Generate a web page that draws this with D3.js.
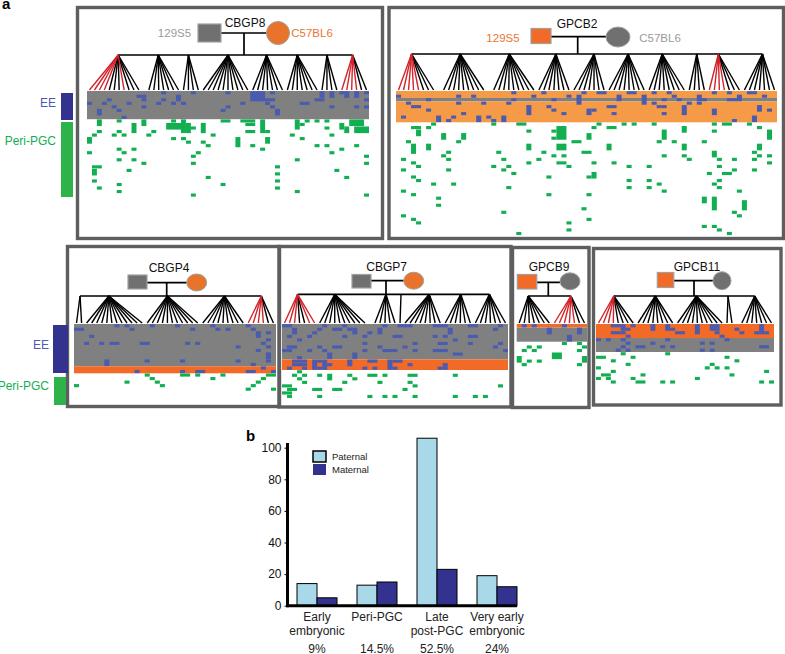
<!DOCTYPE html>
<html><head><meta charset="utf-8">
<script src="https://cdnjs.cloudflare.com/ajax/libs/d3/7.8.5/d3.min.js"></script>
<style>html,body{margin:0;padding:0;background:#fff}svg{display:block}text{font-family:"Liberation Sans",Arimo,Helvetica,Arial,sans-serif}</style>
</head><body><svg id="c" width="785" height="654"></svg>
<script>
// ---- Panel b data
const categories = [["Early","embryonic"],["Peri-PGC"],["Late","post-PGC"],["Very early","embryonic"]];
const paternal = [14,13,106,19];
const maternal = [5,15,23,12];
const percents = ["9%","14.5%","52.5%","24%"];
const yTicks = [0,20,40,60,80,100];

// ---- Panel a data: cells are [column,row,columnSpan,rowSpan]; families are [first,last,apex,[red children]]
const cbgp8Names = ["CBGP8","129S5","C57BL6"];
const cbgp8Bands = [[0,8,"grey"]];
const cbgp8Families = [[0,10,5.8,[0,1,2,3,7]],[12,18,13.9,[]],[19,22,20,[]],[23,32,28,[]],[33,39,35.8,[]],[40,46,42,[]],[47,50,48,[]],[51,56,53.2,[51,52,53,54]]];
const cbgp8Blue = [[15,0],[21,0],[28,0],[10,1,2],[11,2],[4,2],[3,3],[0,3],[5,4],[8,3],[11,4],[15,2],[14,3],[18,1,1,2],[17,3],[19,3],[2,5,1,2],[6,5],[7,7],[28,4],[27,5],[31,3],[33,0,3,3],[37,0],[36,2],[37,2],[36,3],[37,4],[38,5,1,2],[43,3,2],[46,2,2],[47,0,1,2],[49,0,1,2],[49,4],[51,0],[52,0,1,2],[54,0,1,2],[56,0],[56,2],[54,4],[56,4]];
const cbgp8Green = [[2,0,1,2],[6,0],[11,0,1,2],[9,1,1,3],[17,0],[16,1,3,2],[19,0,1,4],[20,1,1,3],[21,2],[23,1,1,3],[27,0,2],[31,0,3,1],[32,1,2,1],[35,0,1,4],[36,3],[32,3,2],[42,0,1,3],[43,1],[44,0],[46,0],[48,0],[48,2],[51,1,1,2],[52,2,1,2],[53,0,3,2],[54,2,3,2],[2,3],[1,4],[0,5,1,2],[5,4],[6,3],[7,4],[12,4],[13,3],[17,5],[19,5],[20,6],[23,6],[24,7],[25,4],[30,5,1,3],[33,7],[35,8],[36,5,1,2],[41,4],[43,5],[49,4],[46,7],[48,7],[49,9],[51,8],[54,7],[0,9],[6,8],[7,9],[9,8],[6,11],[9,11],[11,12],[22,9],[21,10],[21,12],[42,11],[56,10],[56,12],[1,13,2],[1,14,1,2],[8,14],[38,13],[38,15],[38,17],[38,19],[50,14],[52,16],[24,16],[1,17],[27,18],[6,18],[2,19],[6,20],[42,20],[21,21],[56,21]];

const gpcb2Names = ["GPCB2","129S5","C57BL6"];
const gpcb2Bands = [[0,2,"lightOrange"],[2,3,"grey"],[3,9,"lightOrange"]];
const gpcb2Families = [[0,7,2.6,[0,1,2,3,4]],[9,17,12.3,[]],[19,27,22.1,[]],[28,34,31.4,[]],[35,41,39,[]],[42,49,45.8,[]],[50,57,52.6,[]],[58,61,59.5,[]],[62,68,63.8,[62,63,64,65]],[69,75,72.6,[]]];
const gpcb2Blue = [[0,1],[2,3],[3,4,2],[6,2],[6,5],[1,7],[8,7,1,2],[10,8],[11,7],[13,6],[12,1],[12,3],[15,1],[17,3],[16,7,1,2],[18,7],[19,8],[21,7,1,2],[22,3],[23,0],[23,2],[26,4,1,3],[27,1],[29,0],[31,2],[30,4],[31,5],[33,6],[34,1],[36,1,1,3],[37,0],[40,0,2],[38,5,1,2],[39,5],[42,4,2],[43,6],[44,1,1,2],[46,0,2],[49,1,1,3],[51,0],[51,3],[52,4],[53,2],[53,4],[53,6],[54,0],[55,1],[56,2],[57,4,1,3],[58,3],[60,1,1,2],[61,2],[60,3],[63,5,1,2],[63,0],[66,0],[66,2],[67,2],[68,1,1,2],[70,0,2],[71,7,1,2],[72,4,1,2],[73,1],[74,5],[67,8]];
const gpcb2Green = [[3,1,2],[4,2,1,2],[6,1],[7,0],[9,3,1,2],[13,3,1,2],[12,5],[2,5],[3,6,1,3],[6,6,1,2],[10,8],[9,9],[10,10],[1,10],[3,11],[4,12],[1,13],[10,13],[3,15],[4,16],[7,17],[11,17],[1,19],[3,20],[8,21],[8,23],[1,26],[3,27],[4,28],[19,0],[24,0,2],[26,2],[26,6,1,2],[20,8],[21,10],[19,12],[22,12],[21,13],[23,14],[22,18],[21,25],[24,31],[32,1,2,4],[31,2],[31,4],[32,6,2,2],[29,8],[31,9],[33,9],[28,10],[26,11],[32,11,2],[34,12],[30,15],[30,20],[34,28],[34,30],[35,5,2],[37,8,2],[38,3,1,2],[39,1],[40,0],[42,1,2],[42,6,1,2],[39,11],[43,11],[39,14,1,2],[38,15],[38,20],[37,24],[38,27],[45,0],[47,0],[51,0],[46,12],[50,12],[46,16],[46,18],[50,16],[50,18],[52,17],[53,19],[53,2,1,3],[52,5],[55,5],[57,1,1,2],[57,6,1,2],[53,9],[57,9],[58,10],[61,5],[63,2],[63,8,1,2],[62,14],[64,10],[64,12],[65,14,2],[67,13],[67,10],[63,0],[65,0,2],[70,0],[72,1],[74,2,1,3],[72,6,1,2],[71,8],[72,9],[71,10],[74,9],[74,11],[71,13],[64,16],[63,17],[64,18],[68,19],[61,21,1,2],[63,21,1,4],[69,22,1,3],[67,25],[68,26],[61,29],[63,29],[64,30],[66,31]];

const cbgp4Names = ["CBGP4"];
const cbgp4Bands = [[0,12,"grey"],[12,14,"orange"]];
const cbgp4Families = [[0,1,0.7,[]],[2,13,6.4,[]],[14,24,18,[]],[25,33,29.3,[]],[34,39,36.6,[34,35,36,37]]];
const cbgp4Blue = [[0,1,2],[8,0],[10,0],[11,1],[15,0],[20,0],[23,1],[27,0],[28,1],[30,1],[34,0],[35,1],[36,2,1,2],[38,2],[38,4],[3,3],[2,5],[5,5],[7,5,2],[13,5,2],[22,5],[24,5],[37,5],[38,6],[32,6],[36,7],[38,8,1,2],[6,10,1,2],[14,10],[21,10],[32,10],[38,10],[35,11],[37,12],[39,13],[12,13],[21,13],[24,13,2],[34,13,2]];
const cbgp4Green = [[14,0],[15,1],[16,2],[17,3],[0,3],[10,2],[21,0,2],[24,0],[27,1],[29,0],[38,0,2],[37,1],[36,2],[35,3],[34,4],[39,4]];

const cbgp7Names = ["CBGP7"];
const cbgp7Bands = [[0,10,"grey"],[10,13,"orange"]];
const cbgp7Families = [[0,6,2.6,[0,1,2,5,6]],[7,16,10,[]],[18,22,20.2,[]],[23,23,23.2,[]],[24,31,28.8,[]],[32,37,35.1,[]],[38,44,40.8,[]]];
const cbgp7Blue = [[0,0,2],[2,1,1,2],[1,3],[3,4],[1,6,2],[0,7,2],[5,7],[5,3],[6,2],[7,1],[8,0],[10,1,2],[12,0],[13,1],[12,3],[14,1,1,2],[16,3],[17,2],[16,5],[16,7],[7,6],[8,7],[10,6,2],[9,8,1,2],[14,8,1,2],[19,1,1,2],[19,6],[20,7,3],[22,3,2],[20,0],[23,0,2],[25,0],[24,6],[26,5],[26,7],[30,0,3],[33,1,1,2],[30,3],[32,3],[31,5,2],[30,7,3],[34,4],[37,0,2],[37,3,2],[37,5],[42,1],[43,0],[43,5],[42,6],[44,7],[34,8,2],[3,9],[2,10,3],[2,11,3],[1,12],[4,12],[6,10,1,3],[7,10],[8,10,1,3],[9,11],[7,12],[13,10,1,2],[16,12],[17,10,2],[18,12],[21,10,1,3],[22,10,2],[22,12],[25,11],[31,12],[32,11,1,2]];
const cbgp7Green = [[3,0],[2,1],[4,1],[3,2],[4,3],[7,1],[9,1,1,2],[13,1],[14,2],[12,3],[17,1,2],[20,1],[19,3],[25,1,2],[25,3],[26,4],[24,5],[34,1],[43,4],[6,5,2],[10,5,2],[7,7],[17,7],[20,7],[22,7],[26,7],[34,7],[38,7],[40,7],[0,4,2],[1,5],[2,5],[0,6,2],[1,7]];

const gpcb9Names = ["GPCB9"];
const gpcb9Bands = [[0,1,"orange"],[1,5,"grey"]];
const gpcb9Families = [[0,6,1.8,[]],[7,13,10.3,[7,8,9,10,11]]];
const gpcb9Blue = [[1,0],[3,0],[6,1,1,2],[9,0],[12,1,1,2],[10,3,1,2]];
const gpcb9Green = [[9,0],[12,0],[13,1],[2,1],[4,1],[1,2],[3,2],[12,2],[0,4,1,2],[1,6],[2,5],[4,5],[7,3,2,2],[13,4,1,2],[12,6]];

const gpcb11Names = ["GPCB11"];
const gpcb11Bands = [[0,4,"orange"],[4,8,"grey"]];
const gpcb11Families = [[0,7,3.1,[0,1,2,3]],[8,15,11.5,[]],[16,25,19.8,[]],[26,27,26.2,[]],[29,35,31.6,[]]];
const gpcb11Blue = [[3,0,2],[5,0,1,2],[7,0],[6,1],[5,2],[3,2,2],[11,0,1,2],[14,0,1,2],[15,1],[16,2],[17,2],[20,0,1,3],[23,0,2,2],[24,2],[25,3],[28,1],[29,2],[33,0,1,3],[32,2],[34,2],[0,4],[2,4],[6,3],[5,4],[6,5],[5,6],[4,7],[6,7],[8,6,2],[11,5],[13,6],[15,6],[14,4],[21,5],[23,5],[21,7],[23,7],[26,4],[33,6,2]];
const gpcb11Green = [[5,0],[14,0],[0,1,2],[7,1],[3,2],[6,3],[0,4],[3,5],[1,6,2],[0,7],[2,7],[3,8],[9,6],[7,7],[8,8,2],[13,8],[15,8],[20,7],[26,1],[28,2],[23,3],[22,4],[24,4],[26,4],[27,6],[34,5],[33,8],[35,8]];

// ---- Styles
const color = {grey:"#808080",orange:"#F26A27",lightOrange:"#F59B48",blue:"#4A5BB0",green:"#12AE52",frame:"#5E5E5E",red:"#D2232A",
  light:"#A9D8E8",dark:"#33338F",paleGrey:"#A0A0A0",parentGrey:"#707070",parentOrange:"#E8742B",genoOrange:"#E9762F",genoGrey:"#9A9A9A"};

// ---- Layouts (pixel geometry, kept apart from the data)
const panels = [
 {blue:cbgp8Blue,green:cbgp8Green,fam:cbgp8Families,bands:cbgp8Bands,names:cbgp8Names,cols:57,rows:8,x:[87,369],y:[91,119.2],rowH:3.53,frame:[77.5,7.5,305,231],famY:[55,90],parY:33,midX:244,
  square:[198,24,23,18],fill:"#707070",sf:"parentGrey",ell:[278,33,11.5,11.5],ef:"parentOrange",title:[245,27],geno:[[174.5,37,"genoGrey"],[312,37,"genoOrange"]]},
 {blue:gpcb2Blue,green:gpcb2Green,fam:gpcb2Families,bands:gpcb2Bands,names:gpcb2Names,cols:76,rows:9,x:[396,777],y:[91,122.3],rowH:3.53,frame:[389,7.5,394.5,231],famY:[54,90],parY:36.7,midX:577.7,
  square:[531,28.5,20,15],sf:"parentOrange2",ell:[618,37,12,10],ef:"parentGrey",title:[577,28],geno:[[503,42,"genoOrange"],[660,42,"genoGrey"]]},
 {blue:cbgp4Blue,green:cbgp4Green,fam:cbgp4Families,bands:cbgp4Bands,names:cbgp4Names,cols:40,rows:14,x:[74,276],y:[324,373.3],rowH:3.53,frame:[67.5,246.5,212,160],famY:[296,323],parY:282.7,midX:166.7,
  square:[128,275,19,14],sf:"parentGrey",ell:[196.7,282.5,10,8.5],ef:"parentOrange",title:[169,272],geno:[]},
 {blue:cbgp7Blue,green:cbgp7Green,fam:cbgp7Families,bands:cbgp7Bands,names:cbgp7Names,cols:45,rows:13,x:[282,508],y:[324,370],rowH:3.53,frame:[279,246.5,232,160.5],famY:[294.3,323],parY:280.7,midX:386,
  square:[352,274.5,19,13.5],sf:"parentGrey",ell:[413.7,280.7,10,8.5],ef:"parentOrange",title:[386.7,270.5],geno:[]},
 {blue:gpcb9Blue,green:gpcb9Green,fam:gpcb9Families,bands:gpcb9Bands,names:gpcb9Names,cols:14,rows:5,x:[516.7,587],y:[324,341.7],rowH:3.53,frame:[512.5,247.5,76.5,160],famY:[296,323],parY:282.3,midX:548.3,
  square:[517.3,274.5,19.5,14.5],sf:"parentOrange2",ell:[570,281.3,10,8.5],ef:"parentGrey",title:[549,271],geno:[]},
 {blue:gpcb11Blue,green:gpcb11Green,fam:gpcb11Families,bands:gpcb11Bands,names:gpcb11Names,cols:36,rows:8,x:[596,774],y:[324,352],rowH:3.53,frame:[593.5,248.5,187.5,156.5],famY:[296,323],parY:280.7,midX:694,
  square:[657.3,272.5,16.5,15],sf:"parentOrange2",ell:[722,280.7,9,9],ef:"parentGrey",title:[697,270.5],geno:[]}
];
color.parentOrange2 = color.orange;

const svg = d3.select("#c");

function drawPanel(p){
  const g = svg.append("g");
  const cx = d3.scaleLinear().domain([0,p.cols]).range(p.x);
  const ry = d3.scaleLinear().domain([0,p.rows]).range(p.y);
  const gy = d3.scaleLinear().domain([0,1]).range([p.y[1],p.y[1]+p.rowH]);
  const mid = c => cx(c+0.5);

  g.selectAll(".band").data(p.bands).join("rect")
    .attr("x",p.x[0]).attr("width",p.x[1]-p.x[0])
    .attr("y",d=>ry(d[0])).attr("height",d=>ry(d[1])-ry(d[0]))
    .attr("fill",d=>color[d[2]]);

  const cells = (data,yScale,fill)=>g.append("g").selectAll("rect").data(data).join("rect")
    .attr("x",d=>cx(d[0])).attr("width",d=>cx(d[0]+(d[2]||1))-cx(d[0]))
    .attr("y",d=>yScale(d[1])+0.2).attr("height",d=>yScale(d[1]+(d[3]||1))-yScale(d[1])-0.4)
    .attr("fill",fill);
  cells(p.blue,ry,color.blue);
  cells(p.green,gy,color.green);

  // pedigree
  const ped = g.append("g").attr("fill","none").attr("stroke-linecap","butt");
  const apexes = p.fam.map(f=>mid(f[2]));
  ped.append("path").attr("stroke","#000").attr("stroke-width",1.7)
    .attr("d",`M${d3.min(apexes)},${p.famY[0]}H${d3.max(apexes)}M${p.midX},${p.famY[0]}V${p.parY}M${p.square[0]+p.square[2]},${p.parY}H${p.ell[0]-p.ell[2]}`);
  p.fam.forEach(f=>{
    const kids = d3.range(f[0],f[1]+1);
    kids.sort((a,b)=>f[3].includes(a)-f[3].includes(b));
    ped.append("g").selectAll("line").data(kids).join("line")
      .attr("x1",mid(f[2])).attr("y1",p.famY[0])
      .attr("x2",k=>mid(k)).attr("y2",p.famY[1])
      .attr("stroke",k=>f[3].includes(k)?color.red:"#000").attr("stroke-width",1.4);
  });

  // parents
  g.append("rect").attr("x",p.square[0]).attr("y",p.square[1]).attr("width",p.square[2]).attr("height",p.square[3])
    .attr("fill",color[p.sf]).attr("stroke",color.paleGrey).attr("stroke-width",1.2);
  g.append("ellipse").attr("cx",p.ell[0]).attr("cy",p.ell[1]).attr("rx",p.ell[2]).attr("ry",p.ell[3])
    .attr("fill",color[p.ef]).attr("stroke",color.paleGrey).attr("stroke-width",1);

  g.append("text").attr("x",p.title[0]).attr("y",p.title[1]).attr("text-anchor","middle").attr("font-size",12).attr("fill","#111").text(p.names[0]);
  p.geno.forEach((t,i)=>g.append("text").attr("x",t[0]).attr("y",t[1]).attr("text-anchor","middle").attr("font-size",11.5).attr("fill",color[t[2]]).text(p.names[i+1]));

  g.append("rect").attr("x",p.frame[0]).attr("y",p.frame[1]).attr("width",p.frame[2]).attr("height",p.frame[3])
    .attr("fill","none").attr("stroke",color.frame).attr("stroke-width",3.4);
}
panels.forEach(drawPanel);

// side legends for panel a
const sideBars = [[61,93,12,27,color.dark],[61,122,12,75,"#2DB34A"],[53,325,15,48,color.dark],[54,377,12,28,"#2DB34A"]];
svg.append("g").selectAll("rect").data(sideBars).join("rect")
  .attr("x",d=>d[0]).attr("y",d=>d[1]).attr("width",d=>d[2]).attr("height",d=>d[3]).attr("fill",d=>d[4]);
const sideLabels = [[56,107,"EE",color.blue],[56,145,"Peri-PGC",color.green],[49,349,"EE",color.blue],[49,390,"Peri-PGC",color.green]];
svg.append("g").selectAll("text").data(sideLabels).join("text")
  .attr("x",d=>d[0]).attr("y",d=>d[1]).attr("text-anchor","end").attr("font-size",12).attr("fill",d=>d[3]).text(d=>d[2]);

svg.append("text").attr("x",2).attr("y",9).attr("font-size",15).attr("font-weight","bold").text("a");
svg.append("text").attr("x",246).attr("y",441).attr("font-size",15).attr("font-weight","bold").text("b");

// ---- Panel b
const x = d3.scaleBand().domain(d3.range(4)).range([287,527]);
const y = d3.scaleLinear().domain([0,100]).range([605.7,447.7]);
const bw = 20;
const barG = svg.append("g");
const bars = (vals,off,fill)=>barG.append("g").selectAll("rect").data(vals).join("rect")
  .attr("x",(d,i)=>x(i)+x.bandwidth()/2+off).attr("width",bw)
  .attr("y",d=>y(d)).attr("height",d=>y(0)-y(d))
  .attr("fill",fill).attr("stroke","#000").attr("stroke-width",1);
bars(paternal,-bw,color.light);
bars(maternal,0,color.dark);

const yAxis = svg.append("g").attr("transform","translate(287.5,0)")
  .call(d3.axisLeft(y).tickValues(yTicks).tickSize(3).tickSizeOuter(0).tickPadding(3));
yAxis.select(".domain").remove();
yAxis.selectAll("line").attr("stroke","#000").attr("stroke-width",1);
yAxis.selectAll("text").attr("font-size",12).attr("font-family",null).attr("fill","#111");
svg.append("path").attr("d",`M287.5,443V${y(0)+1.5}`).attr("stroke","#000").attr("stroke-width",3).attr("fill","none");
svg.append("path").attr("d",`M286,${y(0)}H517`).attr("stroke","#000").attr("stroke-width",3).attr("fill","none");

const xl = svg.append("g");
categories.forEach((lines,i)=>{
  lines.forEach((t,j)=>xl.append("text").attr("x",x(i)+x.bandwidth()/2).attr("y",621+j*14)
    .attr("text-anchor","middle").attr("font-size",12).attr("fill","#222").text(t));
});
xl.selectAll(".pct").data(percents).join("text").attr("class","pct")
  .attr("x",(d,i)=>x(i)+x.bandwidth()/2).attr("y",654-1).attr("text-anchor","middle").attr("font-size",12).attr("fill","#222").text(d=>d);

// legend
const legendItems = [["Paternal",color.light,1.5,451],["Maternal",color.dark,0,464]];
const lg = svg.append("g");
legendItems.forEach(d=>{
  lg.append("rect").attr("x",313).attr("y",d[3]).attr("width",13).attr("height",11).attr("fill",d[1]).attr("stroke",d[2]?"#000":"none").attr("stroke-width",d[2]);
  lg.append("text").attr("x",332).attr("y",d[3]+9).attr("font-size",9.5).attr("fill","#222").text(d[0]);
});
</script></body></html>
